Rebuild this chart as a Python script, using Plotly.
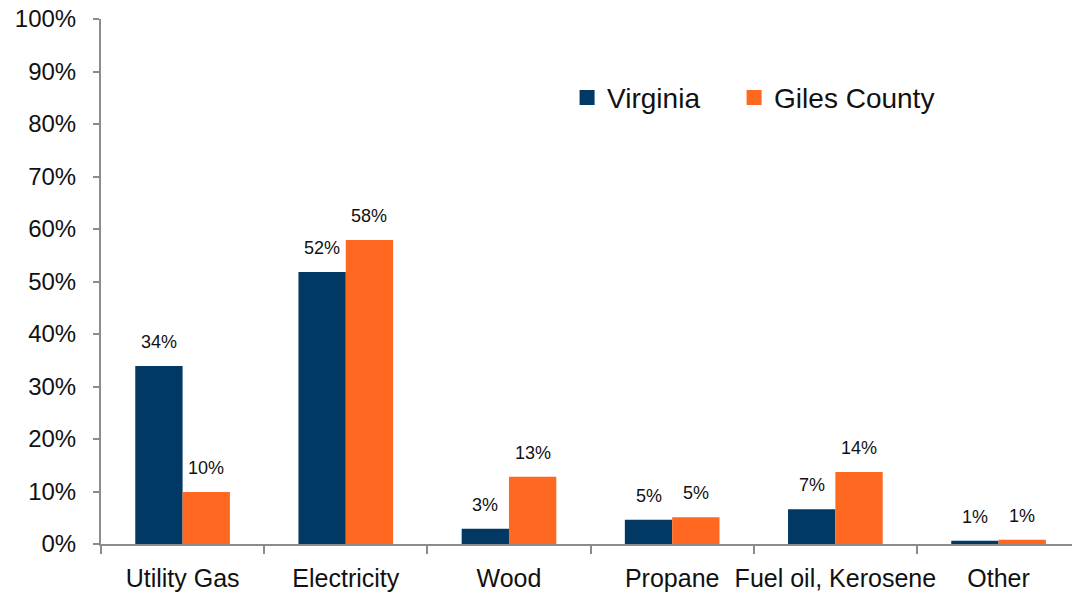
import plotly.graph_objects as go

categories = ["Utility Gas", "Electricity", "Wood", "Propane", "Fuel oil, Kerosene", "Other"]
virginia = [0.339, 0.518, 0.029, 0.046, 0.066, 0.006]
giles = [0.099, 0.579, 0.128, 0.051, 0.137, 0.008]
y_ticks = [0, 0.1, 0.2, 0.3, 0.4, 0.5, 0.6, 0.7, 0.8, 0.9, 1.0]

NAVY = "#023864"
ORANGE = "#FF6820"
FONT = "Liberation Sans"

BARGAP = 0.42
CAT_PX = 163  # pixel width of one category slot
BAR_PX = CAT_PX * (1 - BARGAP) / 2

fig = go.Figure()
series = [("Virginia", virginia, NAVY, -1, "legend"),
          ("Giles County", giles, ORANGE, 1, "legend2")]
for name, vals, color, side, leg in series:
    fig.add_trace(go.Bar(
        name=name, x=categories, y=vals, marker=dict(color=color, line=dict(width=0)),
        showlegend=False,
    ))
    # square swatch for the legend entry
    fig.add_trace(go.Scatter(
        name=name, x=[None], y=[None], mode="markers",
        marker=dict(symbol="square", size=15, color=color), legend=leg,
    ))
    # value labels floating above each bar
    for cat, v in zip(categories, vals):
        fig.add_annotation(
            x=cat, y=v, text=f"{v:.0%}", showarrow=False,
            xanchor="center", yanchor="bottom",
            xshift=side * BAR_PX / 2, yshift=12,
            font=dict(size=18, color="#111111", family=FONT),
        )

legend_style = dict(orientation="h", y=0.85, xanchor="left", yanchor="middle",
                    font=dict(size=28, family=FONT), bgcolor="rgba(0,0,0,0)",
                    itemwidth=30, itemsizing="trace")
fig.update_layout(
    width=1072, height=596,
    margin=dict(l=101, r=0, t=19, b=52),
    paper_bgcolor="white", plot_bgcolor="white",
    barmode="group", bargap=BARGAP, bargroupgap=0,
    font=dict(family=FONT, color="#111111"),
    showlegend=True,
    legend=dict(x=0.48, **legend_style),
    legend2=dict(x=0.652, **legend_style),
)
fig.update_xaxes(
    type="category", range=[-0.5, 5.45],
    showline=True, linecolor="#8c8c8c", linewidth=2,
    ticks="outside", tickson="boundaries", ticklen=8, tickcolor="#8c8c8c", tickwidth=2,
    tickangle=0, tickfont=dict(size=25, family=FONT), ticklabelstandoff=11,
    showgrid=False,
)
fig.update_yaxes(
    range=[0, 1.0], tickvals=y_ticks, tickformat=".0%",
    showline=True, linecolor="#8c8c8c", linewidth=2,
    ticks="outside", ticklen=6, tickcolor="#8c8c8c", tickwidth=2,
    tickfont=dict(size=24, family=FONT), ticklabelstandoff=12,
    showgrid=False, zeroline=False,
)

fig.write_html("out.html")
